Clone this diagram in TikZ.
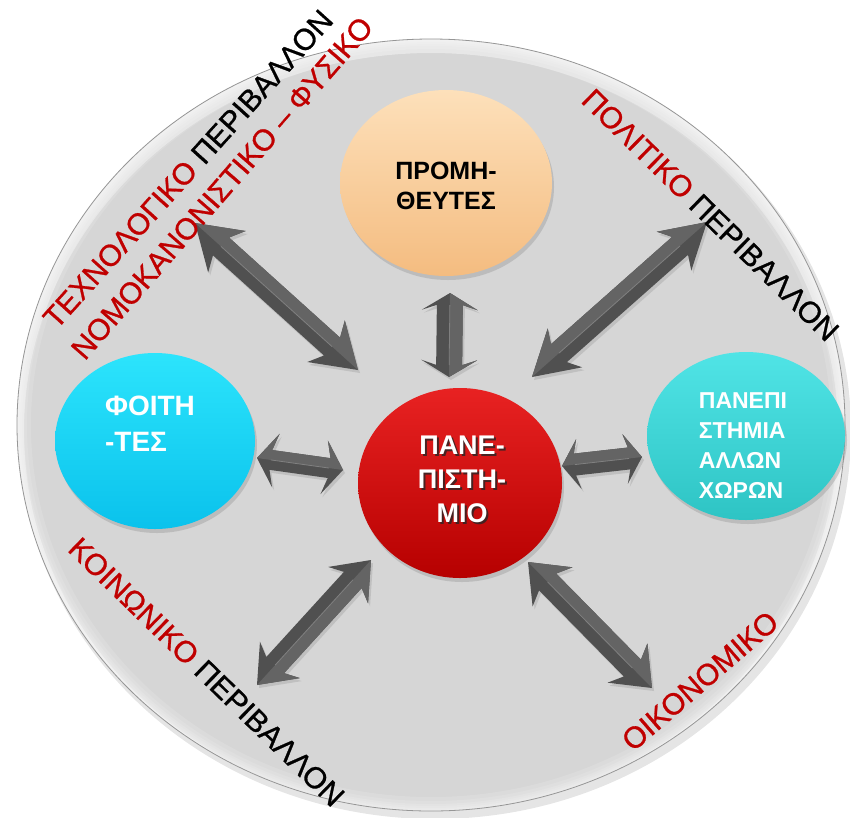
\documentclass[tikz,border=0pt]{standalone}
\usepackage{fontspec}
\setmainfont{Liberation Sans}
\newfontface\ringfont{Liberation Sans}[FakeBold=0.9]
\usetikzlibrary{calc,shapes.geometric,shadows}

\definecolor{labred}{RGB}{192,0,0}
\definecolor{platefill}{RGB}{214,214,214}
\definecolor{platerim}{RGB}{150,150,150}
\definecolor{arrowbody}{RGB}{80,80,80}
\definecolor{arrowside}{RGB}{100,100,100}
\definecolor{arrowridge}{RGB}{128,128,128}

% double-headed block arrow between two named points
% #1,#2 tips; #3 shaft half width; #4 head half width; #5 head length; #6 neck length
\newcommand\blockarrow[6]{%
  \fill[arrowbody, drop shadow={opacity=0.25, shadow xshift=2pt, shadow yshift=-3pt}]
    (#1)
    -- ($(#1)!#5!(#2)!#4!90:(#2)$)
    -- ($(#1)!#6!(#2)!#3!90:(#2)$)
    -- ($(#2)!#6!(#1)!#3!-90:(#1)$)
    -- ($(#2)!#5!(#1)!#4!-90:(#1)$)
    -- (#2)
    -- ($(#2)!#5!(#1)!#4!90:(#1)$)
    -- ($(#2)!#6!(#1)!#3!90:(#1)$)
    -- ($(#1)!#6!(#2)!#3!-90:(#2)$)
    -- ($(#1)!#5!(#2)!#4!-90:(#2)$)
    -- cycle;
  \fill[arrowside]
    (#1)
    -- ($(#1)!#5!(#2)!#4!90:(#2)$)
    -- ($(#1)!#6!(#2)!#3!90:(#2)$)
    -- ($(#2)!#6!(#1)!#3!-90:(#1)$)
    -- ($(#2)!#5!(#1)!#4!-90:(#1)$)
    -- (#2) -- cycle;
  \draw[arrowridge, line width=0.8pt] ($(#1)!#6!(#2)$) -- ($(#2)!#6!(#1)$);
}

\begin{document}
\begin{tikzpicture}[x=1pt, y=-1pt,
    bubble/.style={ellipse, inner sep=0pt, shade,
      drop shadow={opacity=0.3, shadow xshift=2pt, shadow yshift=-4pt}},
    bubtext/.style={inner sep=0pt},
    ringlabel/.style={font=\ringfont\fontsize{30}{36}\selectfont, inner sep=0pt, anchor=center}]

  \fill[white] (0,0) rectangle (850,817);
  \useasboundingbox (0,0) rectangle (850,817);

  % the grey plate with its bevelled rim
  \fill[black, opacity=0.10] (435,431) ellipse [x radius=416, y radius=388];
  \fill[platefill] (431,425) ellipse [x radius=414, y radius=386];
  \begin{scope}
    \clip (431,425) ellipse [x radius=414, y radius=386];
    \foreach \w in {3,6,10,14,20,28}
      \draw[white, opacity=0.13, line width=\w pt] (431,425) ellipse [x radius=414, y radius=386];
    \draw[white, opacity=0.35, line width=14pt] (431,432) ellipse [x radius=414, y radius=386];
  \end{scope}
  \draw[platerim, line width=0.8pt] (431,425) ellipse [x radius=414, y radius=386];

  % arrow ends
  \coordinate (ntA) at (195,223);  \coordinate (ntB) at (358,370);
  \coordinate (prA) at (450,293);  \coordinate (prB) at (449,377);
  \coordinate (poA) at (532,377);  \coordinate (poB) at (707,222);
  \coordinate (stA) at (257,458);  \coordinate (stB) at (343,470);
  \coordinate (foA) at (562,466);  \coordinate (foB) at (642,457);
  \coordinate (soA) at (371,560);  \coordinate (soB) at (257,685);
  \coordinate (ecA) at (528,562);  \coordinate (ecB) at (652,688);

  \blockarrow{ntA}{ntB}{12pt}{28pt}{43pt}{35pt}
  \blockarrow{prA}{prB}{13pt}{28pt}{17pt}{12pt}
  \blockarrow{poA}{poB}{12pt}{26pt}{44pt}{36pt}
  \blockarrow{stA}{stB}{10pt}{27pt}{19pt}{14pt}
  \blockarrow{foA}{foB}{11pt}{25pt}{17pt}{13pt}
  \blockarrow{soA}{soB}{12pt}{27pt}{34pt}{27pt}
  \blockarrow{ecA}{ecB}{12pt}{28pt}{35pt}{28pt}

  % the four bubbles
  \node[bubble, minimum width=212pt, minimum height=186pt,
        top color={rgb,255:red,253;green,224;blue,186},
        bottom color={rgb,255:red,244;green,188;blue,128}] (prom) at (446,183) {};
  \node[bubble, minimum width=200pt, minimum height=176pt,
        top color={rgb,255:red,44;green,228;blue,252},
        bottom color={rgb,255:red,10;green,194;blue,236}] (stud) at (155,441) {};
  \node[bubble, minimum width=204pt, minimum height=190pt,
        top color={rgb,255:red,232;green,34;blue,34},
        bottom color={rgb,255:red,182;green,0;blue,0}] (univ) at (460,483) {};
  \node[bubble, minimum width=198pt, minimum height=168pt,
        top color={rgb,255:red,80;green,228;blue,230},
        bottom color={rgb,255:red,46;green,196;blue,196}] (abroad) at (746,436) {};

  % bubble texts
  \node[bubtext, font=\fontsize{25}{30}\selectfont\bfseries, align=center]
        (promtxt) at (446,186) {ΠΡΟΜΗ-\\ΘΕΥΤΕΣ};
  \node[bubtext, font=\fontsize{28}{36}\selectfont\bfseries, align=left, text=white]
        (studtxt) at (150,424) {ΦΟΙΤΗ\\-ΤΕΣ};
  \node[bubtext, font=\fontsize{27}{34}\selectfont\bfseries, align=center, text=black!85, opacity=0.8]
        (univshadow) at (464,481) {ΠΑΝΕ-\\ΠΙΣΤΗ-\\ΜΙΟ};
  \node[bubtext, font=\fontsize{27}{34}\selectfont\bfseries, align=center, text=white]
        (univtxt) at (462,479) {ΠΑΝΕ-\\ΠΙΣΤΗ-\\ΜΙΟ};
  \node[bubtext, font=\fontsize{23}{30}\selectfont\bfseries, align=left, text=white]
        (abroadtxt) at (743,446) {ΠΑΝΕΠΙ\\ΣΤΗΜΙΑ\\ΑΛΛΩΝ\\ΧΩΡΩΝ};

  % labels around the rim
  \node[ringlabel, rotate=48] (tech) at (188,169)
        {\textcolor{labred}{ΤΕΧΝΟΛΟΓΙΚΟ} ΠΕΡΙΒΑΛΛΟΝ};
  \node[ringlabel, rotate=49, text=labred] (legal) at (222,188)
        {ΝΟΜΟΚΑΝΟΝΙΣΤΙΚΟ – ΦΥΣΙΚΟ};
  \node[ringlabel, rotate=-44.4] (polit) at (710.5,215)
        {\textcolor{labred}{ΠΟΛΙΤΙΚΟ} ΠΕΡΙΒΑΛΛΟΝ};
  \node[ringlabel, rotate=-44.2] (social) at (206.5,672)
        {\textcolor{labred}{ΚΟΙΝΩΝΙΚΟ} ΠΕΡΙΒΑΛΛΟΝ};
  \node[ringlabel, rotate=40.8, text=labred] (econ) at (700,681) {ΟΙΚΟΝΟΜΙΚΟ};
\end{tikzpicture}
\end{document}
